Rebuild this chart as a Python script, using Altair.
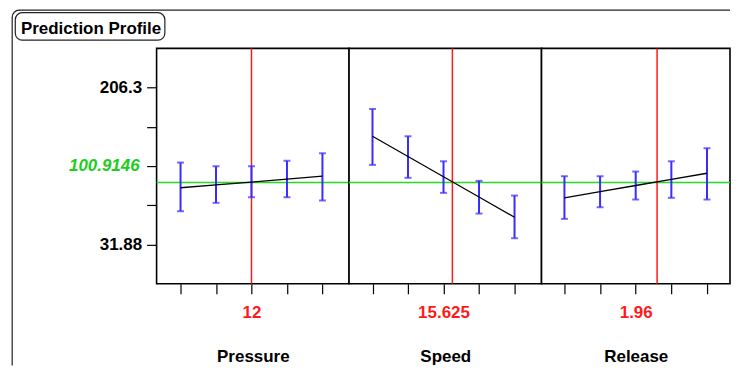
import altair as alt
import pandas as pd

# ---------------- data ----------------
factors = ["Pressure", "Speed", "Release"]
current_values = [12, 15.625, 1.96]
current_labels = ["12", "15.625", "1.96"]

pressure_levels = [8, 10, 12, 14, 16]
pressure_pred = [95.0, 98.2, 101.3, 104.5, 107.8]
pressure_lo = [68.9, 78.2, 84.4, 84.4, 80.8]
pressure_hi = [123.0, 118.9, 118.9, 124.9, 133.3]

speed_levels = [10, 12.5, 15, 17.5, 20]
speed_pred = [152.2, 129.7, 107.2, 84.7, 62.2]
speed_lo = [120.4, 106.0, 89.3, 66.3, 38.9]
speed_hi = [182.6, 152.2, 124.4, 102.6, 86.3]

release_levels = [1.05, 1.4, 1.75, 2.1, 2.45]
release_pred = [83.8, 90.6, 97.5, 104.3, 111.1]
release_lo = [60.4, 73.3, 81.9, 83.8, 81.9]
release_hi = [107.8, 107.8, 113.0, 124.4, 138.9]

x_domains = [[6.65, 17.5], [8.35, 21.9], [0.825, 2.676]]

predicted_value = 100.9146
predicted_label = "100.9146"
y_domain = [-11.72, 249.9]
y_tick_values = [31.88, 75.485, 119.09, 162.695, 206.3]
y_tick_labels = ["31.88", "", "", "", "206.3"]
y_highlight_value = 119.09

title_text = "Prediction Profile"

# ---------------- styling ----------------
FONT = "Liberation Sans"
RED = "#ff1a1a"
GREEN = "#22dd22"
GREEN_TXT = "#1ecc1e"
BLUE = "#3a2bff"
PANEL_W = [193, 193, 189]
PANEL_H = 236

levels_all = [pressure_levels, speed_levels, release_levels]
pred_all = [pressure_pred, speed_pred, release_pred]
lo_all = [pressure_lo, speed_lo, release_lo]
hi_all = [pressure_hi, speed_hi, release_hi]


def ternary(values, labels):
    expr = "''"
    for v, lab in zip(values, labels):
        expr = f"abs(datum.value - {v}) < 0.001 ? '{lab}' : ({expr})"
    return expr


one_row = pd.DataFrame({"k": [0]})

panels = []
for i, name in enumerate(factors):
    lv = levels_all[i]
    df = pd.DataFrame({"level": lv, "pred": pred_all[i], "lo": lo_all[i], "hi": hi_all[i]})
    mid = lv[2]
    xaxis = alt.Axis(
        values=lv,
        labelExpr=f"abs(datum.value - {mid}) < 1e-6 ? '{current_labels[i]}' : ''",
        labelColor=RED, labelFont=FONT, labelFontSize=17, labelFontWeight="bold",
        labelPadding=11, labelOverlap=False, labelFlush=False,
        tickSize=10, tickColor="black", tickWidth=1.2,
        domain=False, grid=False,
        title=name, titleFont=FONT, titleFontSize=17, titleFontWeight="bold",
        titleColor="black", titlePadding=28,
    )
    if i == 0:
        yaxis = alt.Axis(
            values=y_tick_values,
            labelExpr=ternary(y_tick_values, y_tick_labels),
            labelFont=FONT, labelFontSize=17, labelFontWeight="bold",
            labelColor="black",
            labelPadding=5, tickSize=10, tickColor="black", tickWidth=1.2,
            domain=False, grid=False, title=None,
        )
    else:
        yaxis = None

    xscale = alt.Scale(domain=x_domains[i], nice=False, zero=False)
    yscale = alt.Scale(domain=y_domain, nice=False, zero=False)

    def X(f):
        return alt.X(f, scale=xscale, axis=xaxis)

    def Y(f):
        return alt.Y(f, scale=yscale, axis=yaxis)

    base = alt.Chart(df)
    err = base.mark_rule(color=BLUE, strokeWidth=2).encode(
        x=X("level:Q"), y=Y("lo:Q"), y2="hi:Q")
    cap_lo = base.mark_tick(color=BLUE, thickness=2, size=7, orient="horizontal").encode(
        x=X("level:Q"), y=Y("lo:Q"))
    cap_hi = base.mark_tick(color=BLUE, thickness=2, size=7, orient="horizontal").encode(
        x=X("level:Q"), y=Y("hi:Q"))
    line = base.mark_line(color="black", strokeWidth=1.3).encode(x=X("level:Q"), y=Y("pred:Q"))
    hline = alt.Chart(pd.DataFrame({"v": [predicted_value]})).mark_rule(
        color=GREEN, strokeWidth=1.5).encode(y=Y("v:Q"))
    vline = alt.Chart(pd.DataFrame({"c": [current_values[i]]})).mark_rule(
        color=RED, strokeWidth=1.5).encode(x=X("c:Q"))

    layers = []
    if i == 0:
        frame_top = alt.Chart(one_row).mark_rule(color="#222222", strokeWidth=1.2).encode(
            x=alt.value(-137.8), x2=alt.value(575), y=alt.value(-38.3))
        frame_left = alt.Chart(one_row).mark_rule(color="#222222", strokeWidth=1.2).encode(
            x=alt.value(-144.8), y=alt.value(-31.3), y2=alt.value(318))
        frame_corner = alt.Chart(one_row).mark_arc(
            stroke="#222222", strokeWidth=1.2, strokeJoin="round", fill="white", fillOpacity=0,
            radius=7, radius2=7, theta=4.712, theta2=6.283).encode(
            x=alt.value(-137.8), y=alt.value(-31.3))
        tbox = alt.Chart(one_row).mark_rect(
            fill="white", stroke="#222222", strokeWidth=1.2, cornerRadius=7).encode(
            x=alt.value(-141.7), x2=alt.value(8.3), y=alt.value(-35.8), y2=alt.value(-8.2))
        ttext = alt.Chart(one_row).mark_text(
            text=title_text, font=FONT, fontSize=17, fontWeight="bold", align="left",
            baseline="alphabetic", color="black").encode(
            x=alt.value(-136), y=alt.value(-14.2))
        glabel = alt.Chart(pd.DataFrame({"yv": [y_highlight_value], "t": [predicted_label]})).mark_text(
            font=FONT, fontSize=17, fontWeight="bold", fontStyle="italic", align="right",
            baseline="middle", color=GREEN_TXT).encode(
            x=alt.value(-17), y=Y("yv:Q"), text="t:N")
        layers += [frame_top, frame_left, frame_corner, tbox, ttext, glabel]
    layers += [hline, vline, err, cap_lo, cap_hi, line]
    panel = alt.layer(*layers).properties(width=PANEL_W[i], height=PANEL_H)
    panels.append(panel)

chart = alt.hconcat(*panels, spacing=0, bounds="flush").resolve_scale(
    x="independent", y="independent"
).properties(
    padding={"left": 2, "top": 0.01, "right": 0.01, "bottom": 0.01},
    autosize=alt.AutoSizeParams(type="pad"),
    background="white",
).configure_view(
    stroke="black", strokeWidth=1.6, fill="white"
)

chart.save("out.html", embed_options={"renderer": "svg", "actions": False})
